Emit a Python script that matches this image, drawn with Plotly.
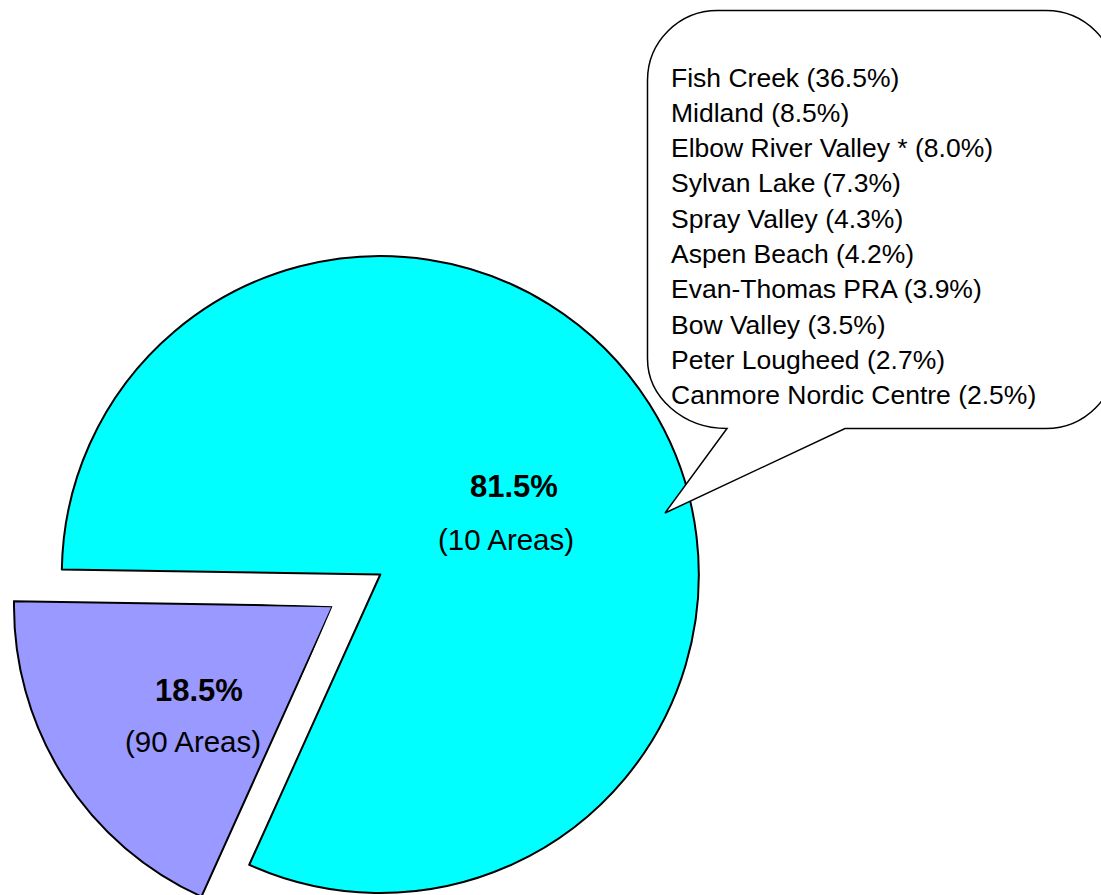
import math
import plotly.graph_objects as go

W, H = 1101, 895          # visible window
FIG_H = 905               # figure a little taller; bottom rows fall outside the window

# ---------------- data ----------------
group_names = ["Top 10 Areas", "Other 90 Areas"]
group_shares = [81.5, 18.5]
group_area_counts = [10, 90]
group_colors = ["#00FFFF", "#9999FF"]

area_names = ["Fish Creek", "Midland", "Elbow River Valley *", "Sylvan Lake",
              "Spray Valley", "Aspen Beach", "Evan-Thomas PRA", "Bow Valley",
              "Peter Lougheed", "Canmore Nordic Centre"]
area_shares = [36.5, 8.5, 8.0, 7.3, 4.3, 4.2, 3.9, 3.5, 2.7, 2.5]

FONT = "Liberation Sans, Arial, sans-serif"


def px_x(x):
    return x / W


def px_y(y):
    return 1 - y / FIG_H


# ---------------- geometry (screen pixels) ----------------
R = 318.5                    # pie radius
main_c = (380.3, 574.5)      # centre of the big slice
pulled_c = (332.5, 606.3)    # vertex of the exploded slice
start_deg = 179.1            # math angle (ccw from east) where big slice starts

total = sum(group_shares)
gap = group_shares[1] / total * 360.0

fig = go.Figure()

# big slice (second slice transparent: it is drawn exploded below)
fig.add_trace(go.Pie(
    values=group_shares,
    labels=group_names,
    sort=False,
    direction="clockwise",
    rotation=90 - start_deg,
    marker=dict(colors=[group_colors[0], "rgba(0,0,0,0)"],
                line=dict(color=["black", "rgba(0,0,0,0)"], width=[2, 0])),
    textinfo="none",
    hoverinfo="skip",
    showlegend=False,
    domain=dict(x=[px_x(main_c[0] - R), px_x(main_c[0] + R)],
                y=[px_y(main_c[1] + R), px_y(main_c[1] - R)]),
))

# exploded slice drawn as a polar wedge
fig.add_trace(go.Barpolar(
    r=[group_shares[1]],
    theta=[start_deg + gap / 2],
    width=[gap],
    marker=dict(color=group_colors[1], line=dict(color="black", width=2)),
    hoverinfo="skip",
    showlegend=False,
    subplot="polar",
))

pad = 1.01
Rp = R * pad
s0 = start_deg - 1.0
s1 = start_deg + gap + 1.0
y_top = pulled_c[1] - Rp * math.sin(math.radians(s0))
y_bot = pulled_c[1] - Rp * math.sin(math.radians(s1))
polar_domain = dict(x=[px_x(pulled_c[0] - Rp), px_x(pulled_c[0])],
                    y=[max(0.0, px_y(y_bot)), px_y(y_top)])

# ---------------- callout box ----------------
L, Rr, T, B, rc = 647.5, 1116.0, 10.5, 428.5, 70.0
ptr_l, ptr_tip, ptr_r = (727.0, B), (665.0, 513.0), (845.0, B)
k = 0.5523


def P(x, y):
    return f"{px_x(x):.5f},{px_y(y):.5f}"


def corner(a, kpt, d):
    c1 = (a[0] + k * (kpt[0] - a[0]), a[1] + k * (kpt[1] - a[1]))
    c2 = (d[0] + k * (kpt[0] - d[0]), d[1] + k * (kpt[1] - d[1]))
    return f" C {P(*c1)} {P(*c2)} {P(*d)}"


path = f"M {P(L, T + rc)}"
path += corner((L, T + rc), (L, T), (L + rc, T))
path += f" L {P(Rr - rc, T)}"
path += corner((Rr - rc, T), (Rr, T), (Rr, T + rc))
path += f" L {P(Rr, B - rc)}"
path += corner((Rr, B - rc), (Rr, B), (Rr - rc, B))
path += f" L {P(*ptr_r)} L {P(*ptr_tip)} L {P(*ptr_l)}"
path += corner(ptr_l, (L, B), (L, B - rc))
path += " Z"

shapes = [dict(type="path", xref="paper", yref="paper", path=path,
               fillcolor="white", line=dict(color="black", width=1.5), layer="above")]

annotations = []
for i, (name, share) in enumerate(zip(area_names, area_shares)):
    annotations.append(dict(
        x=px_x(669), y=px_y(77.5 + i * 35.3), xref="paper", yref="paper",
        xanchor="left", yanchor="middle", showarrow=False,
        text=f"{name} ({share:.1f}%)",
        font=dict(family=FONT, size=26.5, color="black")))

label_pos = [((514, 486), (505.7, 539)), ((199, 690), (192.5, 741))]
for (p1, p2), share, cnt in zip(label_pos, group_shares, group_area_counts):
    annotations.append(dict(
        x=px_x(p1[0]), y=px_y(p1[1]), xref="paper", yref="paper",
        xanchor="center", yanchor="middle", showarrow=False,
        text=f"<b>{share:.1f}%</b>",
        font=dict(family=FONT, size=31, color="black")))
    annotations.append(dict(
        x=px_x(p2[0]), y=px_y(p2[1]), xref="paper", yref="paper",
        xanchor="center", yanchor="middle", showarrow=False,
        text=f"({cnt} Areas)",
        font=dict(family=FONT, size=29.5, color="black")))

fig.update_layout(
    width=W, height=FIG_H,
    margin=dict(l=0, r=0, t=0, b=0),
    paper_bgcolor="white", plot_bgcolor="white",
    showlegend=False,
    polar=dict(domain=polar_domain, sector=[s0, s1], hole=0,
               bgcolor="rgba(0,0,0,0)",
               radialaxis=dict(visible=False, range=[0, group_shares[1] * pad]),
               angularaxis=dict(visible=False, rotation=0, direction="counterclockwise")),
    shapes=shapes,
    annotations=annotations,
)

fig.write_html("out.html", config={"displayModeBar": False},
               post_script="document.body.style.margin='0';"
                           "document.body.style.overflow='hidden';")
